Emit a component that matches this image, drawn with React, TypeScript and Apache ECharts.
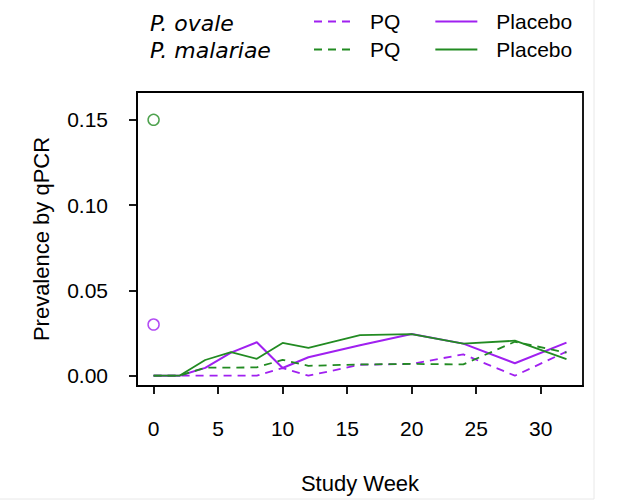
import React, { useEffect, useRef } from "react";
import * as echarts from "echarts";

const weeks = [0, 2, 4, 6, 8, 10, 12, 16, 20, 24, 28, 32];
const ovalePQ = [0, 0, 0, 0, 0, 0.0045, 0, 0.0064, 0.0069, 0.0125, 0, 0.0141];
const ovalePlacebo = [0, 0, 0.0046, 0.0135, 0.0196, 0.0045, 0.0108, 0.0178, 0.0244, 0.0188, 0.0073, 0.0194];
const malariaePQ = [0, 0, 0.0047, 0.0047, 0.0049, 0.0093, 0.0058, 0.0066, 0.0069, 0.0066, 0.0199, 0.0135];
const malariaePlacebo = [0, 0, 0.0092, 0.0138, 0.0099, 0.0192, 0.0163, 0.0238, 0.0244, 0.0188, 0.0205, 0.0097];
const baselineWeek = [0];
const ovaleBaseline = [0.03];
const malariaeBaseline = [0.15];
const xTickStep = 5;
const yTickStep = 0.05;

const PURPLE = "#A020F0";
const GREEN = "#228B22";
const FONT = "Liberation Sans, Arial, sans-serif";

const pairs = (xs: number[], ys: number[]) => xs.map((x, i) => [x, ys[i]]);

export default function App() {
  const ref = useRef<HTMLDivElement>(null);
  useEffect(() => {
    if (!ref.current) return;
    const chart = echarts.init(ref.current, undefined, { renderer: "svg" });
    const lineSeries = (name: string, data: number[], color: string, dashed: boolean, width: number) => ({
      type: "line",
      name,
      data: pairs(weeks, data),
      symbol: "none",
      lineStyle: { color, width, type: dashed ? [8, 6] : "solid" },
      itemStyle: { color },
      z: 3,
    });
    const legendBase = {
      left: 308,
      itemWidth: 42,
      itemHeight: 14,
      itemGap: 34,
      selectedMode: false,
      itemStyle: { color: "transparent", borderColor: "transparent", borderWidth: 0, opacity: 0 },
      textStyle: { fontSize: 21, color: "#000", fontFamily: FONT, padding: [0, 0, 0, 9] },
      formatter: (n: string) => (n.endsWith("PQ") ? "PQ" : "Placebo"),
    };
    const placeboText = { fontSize: 21, color: "#000", fontFamily: FONT, padding: [0, 0, 0, 14] };
    const axisLineStyle = { color: "#000", width: 1.8 };
    const tickStyle = { show: true, inside: false, length: 8, lineStyle: { color: "#000", width: 1.8, opacity: 1 } };
    chart.setOption({
      animation: false,
      backgroundColor: "#fff",
      grid: {
        left: 137,
        right: 34,
        top: 92,
        bottom: 118,
        show: true,
        borderColor: "#000",
        borderWidth: 1.8,
        backgroundColor: "transparent",
      },
      legend: [
        {
          ...legendBase,
          top: 6,
          data: ["ovale PQ", { name: "ovale Placebo", textStyle: placeboText }],
        },
        {
          ...legendBase,
          top: 34,
          data: ["malariae PQ", { name: "malariae Placebo", textStyle: placeboText }],
        },
      ],
      graphic: [
        {
          type: "text",
          left: 150,
          top: 12,
          style: { text: "P. ovale", fontSize: 22, fontStyle: "italic", fontFamily: "DejaVu Sans, sans-serif", fill: "#000" },
        },
        {
          type: "text",
          left: 150,
          top: 39,
          style: { text: "P. malariae", fontSize: 22, fontStyle: "italic", fontFamily: "DejaVu Sans, sans-serif", fill: "#000" },
        },
        { type: "line", shape: { x1: 594, y1: 0, x2: 594, y2: 499 }, style: { stroke: "#e8e8e8", lineWidth: 1 } },
        { type: "line", shape: { x1: 0, y1: 499, x2: 594, y2: 499 }, style: { stroke: "#e8e8e8", lineWidth: 1 } },
      ],
      xAxis: {
        type: "value",
        min: -1.285,
        max: 33.28,
        splitNumber: 7,
        minInterval: xTickStep,
        maxInterval: xTickStep,
        name: "Study Week",
        nameLocation: "middle",
        nameGap: 86,
        nameTextStyle: { fontSize: 22, color: "#000", fontFamily: FONT },
        axisLine: { show: true, onZero: false, lineStyle: axisLineStyle },
        axisTick: tickStyle,
        axisLabel: {
          showMinLabel: false,
          showMaxLabel: false,
          fontSize: 21,
          color: "#000",
          fontFamily: FONT,
          margin: 32,
          formatter: (v: number) => String(Math.round(v)),
        },
        splitLine: { show: false },
      },
      yAxis: {
        type: "value",
        min: -0.00604,
        max: 0.16629,
        splitNumber: 3,
        minInterval: yTickStep,
        maxInterval: yTickStep,
        name: "Prevalence by qPCR",
        nameLocation: "middle",
        nameGap: 85,
        nameTextStyle: { fontSize: 22, color: "#000", fontFamily: FONT },
        axisLine: { show: true, onZero: false, lineStyle: axisLineStyle },
        axisTick: tickStyle,
        axisLabel: {
          showMinLabel: false,
          showMaxLabel: false,
          fontSize: 21,
          color: "#000",
          fontFamily: FONT,
          margin: 29,
          formatter: (v: number) => v.toFixed(2),
        },
        splitLine: { show: false },
      },
      series: [
        lineSeries("ovale PQ", ovalePQ, PURPLE, true, 1.8),
        lineSeries("ovale Placebo", ovalePlacebo, PURPLE, false, 2),
        lineSeries("malariae PQ", malariaePQ, GREEN, true, 1.8),
        lineSeries("malariae Placebo", malariaePlacebo, GREEN, false, 1.8),
        {
          type: "scatter",
          name: "ovale baseline",
          data: pairs(baselineWeek, ovaleBaseline),
          symbol: "circle",
          symbolSize: 11,
          itemStyle: { color: "transparent", borderColor: PURPLE, borderWidth: 1.5 },
        },
        {
          type: "scatter",
          name: "malariae baseline",
          data: pairs(baselineWeek, malariaeBaseline),
          symbol: "circle",
          symbolSize: 11,
          itemStyle: { color: "transparent", borderColor: GREEN, borderWidth: 1.5 },
        },
      ],
    });
    return () => chart.dispose();
  }, []);
  return <div ref={ref} style={{ position: "absolute", left: 0, top: 0, width: 617, height: 504 }} />;
}
